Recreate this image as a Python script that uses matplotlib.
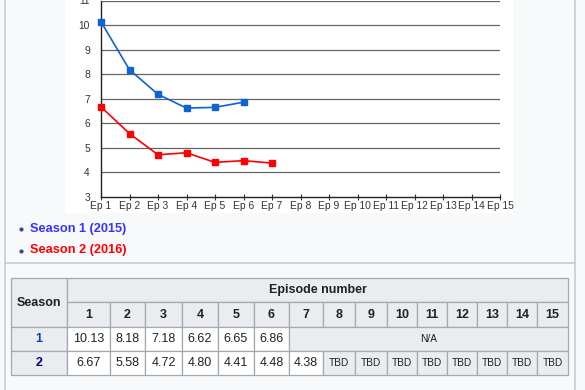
import matplotlib.pyplot as plt
from matplotlib.patches import Rectangle

plt.rcParams['font.family'] = ['Liberation Sans', 'DejaVu Sans']

episodes = list(range(1, 16))
ep_labels = ['Ep %d' % i for i in episodes]
season1 = [10.13, 8.18, 7.18, 6.62, 6.65, 6.86]
season2 = [6.67, 5.58, 4.72, 4.80, 4.41, 4.48, 4.38]
season_names = ['Season 1 (2015)', 'Season 2 (2016)']
yticks = [3, 4, 5, 6, 7, 8, 9, 10, 11]

W, H = 585, 390
fig = plt.figure(figsize=(W / 100, H / 100), dpi=100)
fig.patch.set_facecolor('#f8f9fa')

# full-figure axes in pixel coords (y down) for page furniture and table
pg = fig.add_axes([0, 0, 1, 1])
pg.set_xlim(0, W)
pg.set_ylim(H, 0)
pg.axis('off')

pg.add_patch(Rectangle((65, -1), 448, 214, facecolor='white', edgecolor='none'))
pg.plot([5, 5], [0, H], color='#c8ccd1', lw=1.2)
pg.plot([575, 575], [0, H], color='#c8ccd1', lw=1.2)
pg.plot([5, 575], [262.5, 262.5], color='#c8ccd1', lw=1.2)

# legend list
cols = ['#3333ff', '#ff0000']
for i, (name, c) in enumerate(zip(season_names, cols)):
    y = 229 + i * 21.5
    pg.plot(21, y, marker='o', ms=3, color='#2a4b8d', mec='none')
    pg.text(30, y, name, color=c, fontsize=9.2, fontweight='bold', va='center', ha='left')

# chart
ax = fig.add_axes([101 / W, (H - 197) / H, 399 / W, 196.5 / H])
ax.set_facecolor('white')
ax.set_xlim(1, 15)
ax.set_ylim(3, 11)
for v in yticks[1:]:
    ax.axhline(v, color='#666666', lw=0.9, zorder=1)
ax.plot(episodes[:len(season1)], season1, color='#0d62d4', lw=1.2, marker='s', ms=4.5, zorder=3, clip_on=False)
ax.plot(episodes[:len(season2)], season2, color='#ff0000', lw=1.2, marker='s', ms=4.5, zorder=3, clip_on=False)
ax.set_xticks(episodes)
ax.set_xticklabels(ep_labels)
ax.set_yticks(yticks)
for s in ['top', 'right']:
    ax.spines[s].set_visible(False)
for s in ['left', 'bottom']:
    ax.spines[s].set_color('#222222')
    ax.spines[s].set_linewidth(1.0)
ax.tick_params(axis='x', direction='inout', length=5, width=0.8, pad=0.5, labelsize=7.4, colors='#333333')
ax.tick_params(axis='y', direction='in', length=0, pad=8, labelsize=7.4, colors='#333333')

# table
grid = '#a2a9b1'
hdr = '#eaecf0'
col_x = [11, 67, 110, 145, 182, 218, 254, 289, 323, 355, 387, 417, 447, 477, 507, 537, 568]
row_y = [278, 302, 327, 351, 375]


def cell(x0, x1, y0, y1, txt, bg, **kw):
    pg.add_patch(Rectangle((x0, y0), x1 - x0, y1 - y0, facecolor=bg, edgecolor=grid, lw=0.9))
    pg.text((x0 + x1) / 2, (y0 + y1) / 2 + 0.5, txt, ha='center', va='center', **kw)


bold = dict(fontsize=9, fontweight='bold', color='#202122')
cell(col_x[0], col_x[1], row_y[0], row_y[2], 'Season', hdr, **bold)
cell(col_x[1], col_x[-1], row_y[0], row_y[1], 'Episode number', hdr, **bold)
for i, ep in enumerate(episodes):
    cell(col_x[i + 1], col_x[i + 2], row_y[1], row_y[2], str(ep), hdr, **bold)

link = ['#0645ad', '#0b0080']
for r, vals in enumerate([season1, season2]):
    y0, y1 = row_y[r + 2], row_y[r + 3]
    cell(col_x[0], col_x[1], y0, y1, str(r + 1), hdr, fontsize=9, fontweight='bold', color=link[r])
    for i, v in enumerate(vals):
        cell(col_x[i + 1], col_x[i + 2], y0, y1, '%.2f' % v, 'white', fontsize=9, color='#202122')
    n = len(vals)
    if r == 0:
        cell(col_x[n + 1], col_x[-1], y0, y1, 'N/A', hdr, fontsize=7.3, color='#202122')
    else:
        for i in range(n, len(episodes)):
            cell(col_x[i + 1], col_x[i + 2], y0, y1, 'TBD', hdr, fontsize=7.3, color='#202122')

fig.savefig('out.png', dpi=100, facecolor=fig.get_facecolor())
